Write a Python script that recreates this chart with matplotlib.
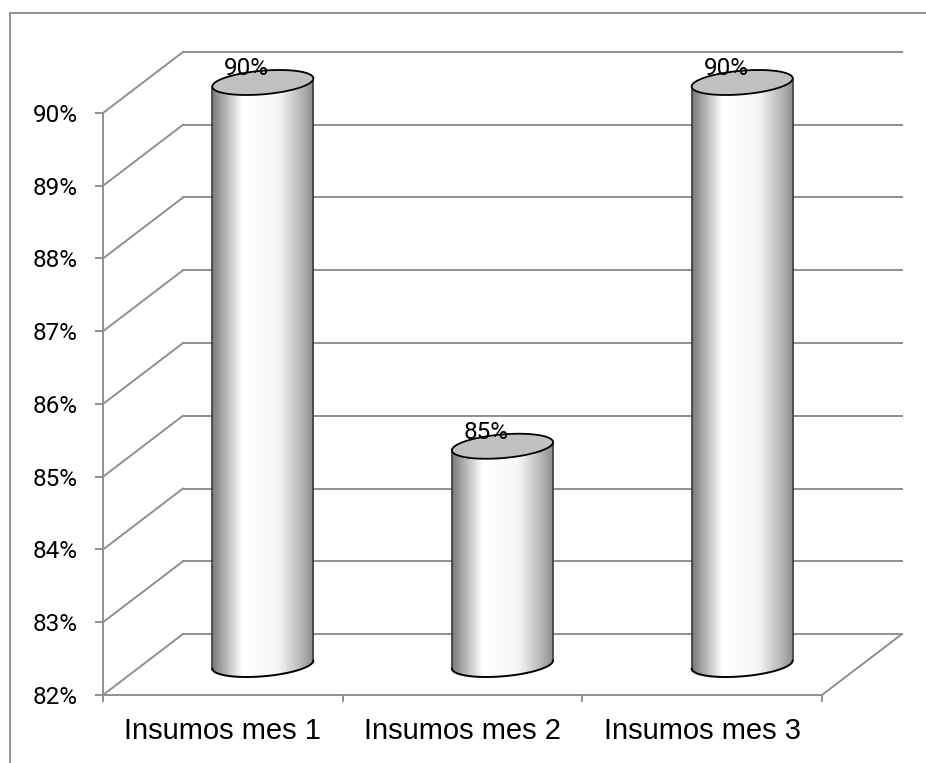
import numpy as np
import matplotlib
matplotlib.use("Agg")
import matplotlib.pyplot as plt
from matplotlib.patches import Polygon
from matplotlib.colors import LinearSegmentedColormap
from matplotlib.lines import Line2D

plt.rcParams['font.family'] = ['Liberation Sans', 'DejaVu Sans']
NUM_FONT = ['Roboto', 'DejaVu Sans']

# ---------------- data ----------------
categories = ["Insumos mes 1", "Insumos mes 2", "Insumos mes 3"]
values = [90, 85, 90]
value_labels = ["90%", "85%", "90%"]
y_ticks = [82, 83, 84, 85, 86, 87, 88, 89, 90]
y_tick_labels = ["82%", "83%", "84%", "85%", "86%", "87%", "88%", "89%", "90%"]

# ---------------- geometry (pixels) ----------------
W, H = 926, 763
PX_LEFT, PX_RIGHT = 103, 822      # front plane x extent
PX_YMIN, PX_YMAX = 695, 113       # pixel rows of lowest / highest tick
DEPTH_PX = (80, 61)               # oblique depth offset of back wall
GRID = "#8f8f8f"
GLW = 1.4

fig = plt.figure(figsize=(W / 100, H / 100), dpi=100)
ax = fig.add_axes([0, 0, 1, 1])
n = len(categories)
ymin, ymax = y_ticks[0], y_ticks[-1]
sx = (PX_RIGHT - PX_LEFT) / n
sy = (PX_YMIN - PX_YMAX) / (ymax - ymin)
ax.set_xlim(-PX_LEFT / sx, (W - PX_LEFT) / sx)
ax.set_ylim(ymin - (H - PX_YMIN) / sy, ymax + PX_YMAX / sy)
ddx, ddy = DEPTH_PX[0] / sx, DEPTH_PX[1] / sy

# spines / axes
for s in ("top", "right"):
    ax.spines[s].set_visible(False)
ax.spines["left"].set_position(("data", 0))
ax.spines["left"].set_bounds(ymin, ymax)
ax.spines["bottom"].set_position(("data", ymin))
ax.spines["bottom"].set_bounds(0, n)
for s in ("left", "bottom"):
    ax.spines[s].set_color(GRID)
    ax.spines[s].set_linewidth(GLW)
    ax.spines[s].set_zorder(1)

ax.set_yticks(y_ticks, y_tick_labels)
ax.tick_params(axis="y", length=5.8, width=GLW, color=GRID, pad=12.5,
               labelsize=17.5)
for lab in ax.get_yticklabels():
    lab.set_fontfamily(NUM_FONT)
ax.set_xticks(range(n + 1), [""] * (n + 1))
ax.set_xticks([i + 0.5 for i in range(n)], categories, minor=True)
ax.tick_params(axis="x", which="major", length=5, width=GLW, color=GRID)
ax.tick_params(axis="x", which="minor", length=0, pad=16, labelsize=21)
ax.set_facecolor("white")

# back wall grid lines and side wall diagonals
for v in y_ticks:
    ax.plot([ddx, n + ddx], [v + ddy, v + ddy], color=GRID, lw=GLW, zorder=1)
    ax.plot([0, ddx], [v, v + ddy], color=GRID, lw=GLW, zorder=1)
ax.plot([n, n + ddx], [ymin, ymin + ddy], color=GRID, lw=GLW, zorder=1)

# ---------------- cylinders ----------------
cmap = LinearSegmentedColormap.from_list(
    "cyl", [(0.0, "#7a7a7a"), (0.12, "#b0b0b0"), (0.3, "#ffffff"),
            (0.65, "#f7f7f7"), (0.88, "#b5b5b5"), (1.0, "#8a8a8a")])
grad = np.linspace(0, 1, 256).reshape(1, -1)

R_X = 0.1994     # cylinder radius along x (category units)
R_D = 0.205      # cylinder radius along depth (fraction of wall depth)
for i, v in enumerate(values):
    cx = i + 0.5 + 0.5 * ddx
    axx, bx, by = R_X, R_D * ddx, R_D * ddy
    t0 = np.arctan2(bx, axx)
    hx = np.hypot(axx, bx)
    yb = ymin + 0.5 * ddy
    yt = v + 0.5 * ddy

    def ell(yc, tt):
        return cx + axx * np.cos(tt) + bx * np.sin(tt), yc + by * np.sin(tt)

    front = np.linspace(t0 + np.pi, t0 + 2 * np.pi, 120)
    xb, ybb = ell(yb, front)
    xt, ytt = ell(yt, front)
    body = Polygon(np.column_stack([np.concatenate([xt, xb[::-1]]),
                                    np.concatenate([ytt, ybb[::-1]])]),
                   closed=True, fc="none", ec="none", zorder=3)
    ax.add_patch(body)
    im = ax.imshow(grad, cmap=cmap, aspect="auto", interpolation="bilinear",
                   extent=(cx - hx, cx + hx, yb - 2 * by, yt + 2 * by),
                   zorder=3)
    im.set_clip_path(body)
    im.set_clip_box(fig.bbox)
    # side edges
    ax.plot([xt[0], xb[0]], [ytt[0], ybb[0]], color="#3a3a3a", lw=1.2, zorder=4)
    ax.plot([xt[-1], xb[-1]], [ytt[-1], ybb[-1]], color="#3a3a3a", lw=1.2, zorder=4)
    ax.plot(xb, ybb, color="black", lw=1.4, zorder=4, solid_capstyle="round")
    full = np.linspace(0, 2 * np.pi, 200)
    ex, ey = ell(yt, full)
    ax.add_patch(Polygon(np.column_stack([ex, ey]), closed=True,
                         fc="#c0c0c0", ec="black", lw=1.3, zorder=5))
    ax.text(cx - 16 / sx, yt + 14 / sy, value_labels[i], ha="center",
            va="center", fontsize=17.5, family=NUM_FONT, zorder=6)

ax.set_xlim(-PX_LEFT / sx, (W - PX_LEFT) / sx)
ax.set_ylim(ymin - (H - PX_YMIN) / sy, ymax + PX_YMAX / sy)

# outer chart border
fig.add_artist(Line2D([10 / W, 10 / W, 1.0], [0.0, 1 - 13 / H, 1 - 13 / H],
                      transform=fig.transFigure, color=GRID, lw=GLW))

fig.savefig("out.png", dpi=100, facecolor="white")
